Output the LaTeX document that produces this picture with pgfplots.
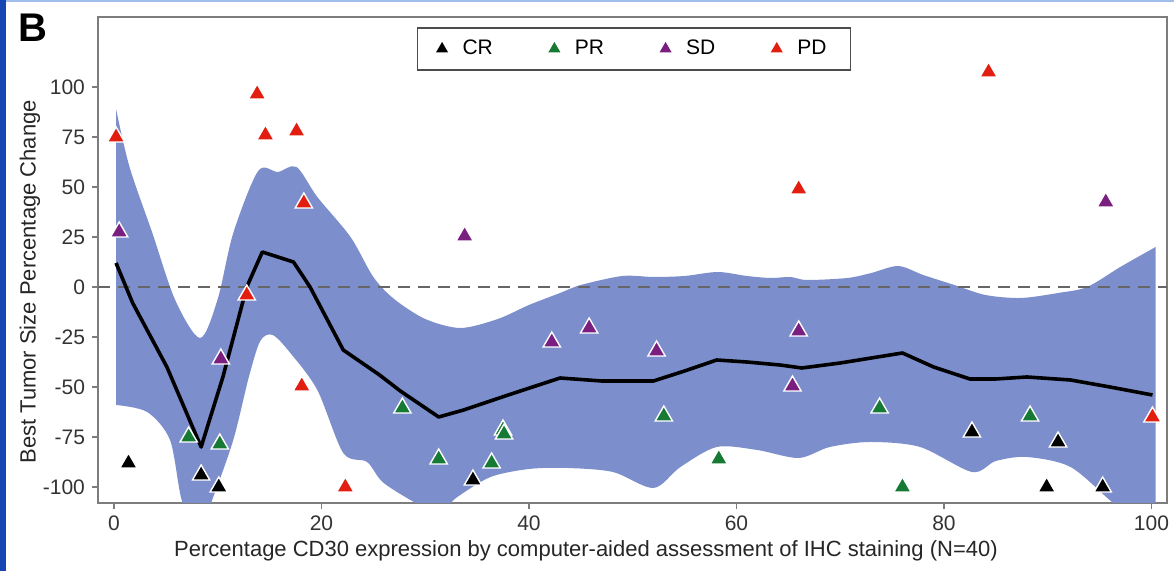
\documentclass[border=0pt]{standalone}
\usepackage{fontspec}
\setmainfont{Liberation Sans}
\usepackage{pgfplots}
\pgfplotsset{compat=1.18}
\usepgfplotslibrary{fillbetween}
\definecolor{bandcol}{RGB}{124,143,204}
\definecolor{crcol}{RGB}{0,0,0}
\definecolor{prcol}{RGB}{22,122,52}
\definecolor{sdcol}{RGB}{122,30,128}
\definecolor{pdcol}{RGB}{226,30,16}
\definecolor{framecol}{RGB}{125,125,125}
\definecolor{edgeblue}{RGB}{20,70,180}
\definecolor{topblue}{RGB}{160,190,235}
\begin{document}
\begin{tikzpicture}
\begin{axis}[
  at={(0,0)}, anchor=south west,
  scale only axis, width=534.5pt, height=243pt,
  xmin=-1.54, xmax=101.5, ymin=-108, ymax=135,
  xtick={0,20,...,100}, ytick={-100,-75,...,100},
  tick pos=left, tick align=outside, major tick length=3pt,
  tick style={framecol, line width=0.8pt},
  axis line style={framecol, line width=1pt},
  /pgf/number format/assume math mode=true,
  tick label style={font=\fontsize{10.5}{12}\selectfont, text=black!80},
  label style={font=\fontsize{11}{13}\selectfont, text=black!85},
  xlabel={Percentage CD30 expression by computer-aided assessment of IHC staining (N=40)},
  ylabel={Best Tumor Size Percentage Change},
  xlabel style={at={(axis description cs:0.4565,-0.0988)}, anchor=center},
  ylabel style={at={(axis description cs:-0.0636,0.455)}, anchor=center},
  legend columns=4,
  legend image code/.code={\draw[#1] plot coordinates {(0pt,0pt)};},
  legend style={at={(axis description cs:0.5014,0.979)}, anchor=north,
    draw=black!70, line width=0.9pt, font=\fontsize{10.5}{12}\selectfont,
    inner xsep=10pt, inner ysep=4pt,
    /tikz/every odd column/.append style={column sep=6pt},
    /tikz/every even column/.append style={column sep=26.5pt}},
]
% confidence band
\addplot[name path=up, draw=none, smooth, forget plot] coordinates {
(0.2,89) (1.5,60) (3.7,27) (5.9,-6.5) (8.3,-25.5) (10.0,-6) (11.5,27)
(13.9,58) (15.8,57.5) (17.6,60) (19.6,45) (22.8,25) (25,5) (27,-6)
(30,-16) (33.4,-20.5) (37,-16) (40,-9) (43,-3) (45,1) (49,5.5) (52,5)
(55,5.5) (58.2,7.5) (61,5.5) (63.3,4.5) (65.2,5) (66.8,3.5) (70.7,4.5)
(73,7) (75.6,10.5) (78,6) (81,1) (84,-4) (87.4,-5.5) (91,-3) (93.8,0)
(97,10) (100.4,20)
};
\addplot[name path=lo, draw=none, smooth, forget plot] coordinates {
(0.2,-59) (3.2,-62.5) (5.4,-76.5) (6.5,-106) (8,-125) (9.5,-106)
(11.5,-76.5) (13,-45) (14.1,-27) (15.3,-24) (17,-33) (19.6,-51.5)
(22.1,-83) (24.4,-87.5) (26,-98) (29.8,-110) (31.5,-112) (33.1,-105)
(36.3,-95) (40,-91) (43.7,-90.5) (48.1,-92.5) (52,-100.5) (54.6,-90)
(58.1,-80) (62,-81.5) (66,-85.5) (69,-80) (72.9,-77.5) (77.7,-80)
(82.7,-92.5) (85,-87) (88,-85) (92.2,-90) (96.3,-108) (100.4,-125)
};
\addplot[bandcol, forget plot] fill between[of=up and lo];
% zero reference
\addplot[forget plot, black!60, line width=1pt, dash pattern=on 6pt off 4pt]
  coordinates {(-1.54,0) (101.5,0)};
% fitted curve
\addplot[forget plot, black, line width=1.8pt, line join=round] coordinates {
(0.2,12) (1.8,-8) (5.1,-40) (8.4,-80) (10.5,-45) (12.8,0) (14.3,17.5)
(17.3,12.5) (18.9,0) (22.1,-31.5) (25.6,-44) (27.6,-52) (31.3,-65)
(33.7,-61.5) (38,-54) (43,-45.5) (47,-47) (52,-47) (55,-42) (58.1,-36.5)
(61,-37.5) (64.2,-39) (66.3,-40.5) (70,-38) (76,-33) (79,-40) (82.5,-46)
(85,-46) (88,-45) (92.2,-46.5) (96,-50) (100.1,-54)
};
% responses
\pgfplotsset{resp/.style={forget plot, only marks, mark=triangle*,
  mark size=5pt, mark options={fill=#1, draw=white, line width=0.7pt}}}
\addplot[resp=crcol] coordinates {
(1.4,-88) (8.4,-94) (10.1,-100) (34.6,-96.5) (82.7,-72.5) (91.0,-77.5)
(89.9,-100) (95.3,-100)
};
\addplot[resp=prcol] coordinates {
(7.2,-75) (10.2,-78.5) (27.8,-60.5) (31.3,-86) (36.4,-88) (37.5,-71.5)
(37.6,-73.5) (53.0,-64.5) (58.3,-86) (73.8,-60.5) (76.0,-100) (88.3,-64.5)
};
\addplot[resp=sdcol] coordinates {
(0.5,27.5) (10.3,-36) (33.8,25.5) (42.2,-27.5) (45.8,-20.5) (52.3,-32)
(66.0,-22) (65.4,-49.5) (95.6,42.5)
};
\addplot[resp=pdcol] coordinates {
(0.2,75) (13.8,96.5) (14.6,76) (17.6,78) (18.3,42) (12.8,-4) (18.1,-49.5)
(22.3,-100) (66.0,49) (84.3,107.5) (100.1,-65)
};
\addlegendimage{only marks, mark=triangle*, mark size=2.6pt, color=crcol}
\addlegendentry{CR}
\addlegendimage{only marks, mark=triangle*, mark size=2.6pt, color=prcol}
\addlegendentry{PR}
\addlegendimage{only marks, mark=triangle*, mark size=2.6pt, color=sdcol}
\addlegendentry{SD}
\addlegendimage{only marks, mark=triangle*, mark size=2.6pt, color=pdcol}
\addlegendentry{PD}
\end{axis}
\pgfresetboundingbox
\path[use as bounding box] (-49pt,-34pt) rectangle (538pt,251.5pt);
\fill[edgeblue] (-49pt,-34pt) rectangle (-46pt,251.5pt);
\fill[topblue] (-46pt,250.5pt) rectangle (538pt,251.5pt);
\node[font=\bfseries\fontsize{20}{22}\selectfont] at (-32.5pt,237.5pt) {B};
\end{tikzpicture}
\end{document}
